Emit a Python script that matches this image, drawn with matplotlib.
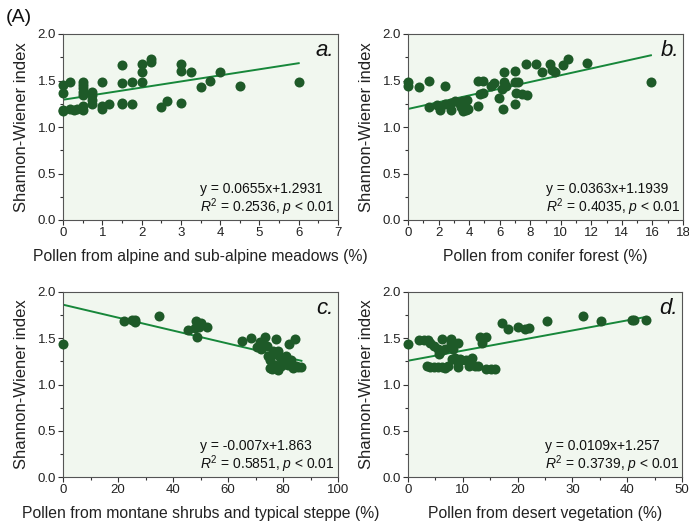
import numpy as np
import matplotlib.pyplot as plt
from matplotlib.ticker import MultipleLocator, AutoMinorLocator

plt.rcParams['font.family'] = ['Liberation Sans', 'DejaVu Sans']
plt.rcParams['mathtext.fontset'] = 'custom'
plt.rcParams['mathtext.rm'] = 'Liberation Sans'
plt.rcParams['mathtext.it'] = 'Liberation Sans:italic'

# ---- data ----
a_x = [0, 0, 0, 0, 0.17, 0.17, 0.27, 0.36, 0.5, 0.5, 0.5, 0.5, 0.5, 0.5, 0.5,
       0.75, 0.75, 0.75, 0.75, 1.0, 1.0, 1.0, 1.17, 1.5, 1.5, 1.5, 1.5, 1.75, 1.75,
       2.0, 2.0, 2.0, 2.25, 2.25, 2.5, 2.65, 3.0, 3.0, 3.0, 3.25, 3.5, 3.75, 4.0, 4.5, 6.0]
a_y = [1.45, 1.365, 1.18, 1.17, 1.48, 1.19, 1.18, 1.19, 1.48, 1.45, 1.42, 1.38, 1.34, 1.23, 1.18,
       1.38, 1.34, 1.29, 1.25, 1.48, 1.23, 1.19, 1.25, 1.67, 1.47, 1.26, 1.25, 1.48, 1.25,
       1.68, 1.59, 1.48, 1.73, 1.70, 1.22, 1.28, 1.68, 1.60, 1.26, 1.59, 1.43, 1.50, 1.59, 1.44, 1.48]

b_x = [0, 0, 0.7, 1.4, 1.4, 1.9, 2.1, 2.45, 2.45, 2.8, 2.8, 3.1, 3.4, 3.5, 3.55, 3.6, 3.7,
       3.75, 3.8, 3.85, 3.9, 3.65, 4.55, 4.55, 4.9, 4.7, 4.9, 5.45, 5.6, 5.95, 6.15, 6.2,
       6.3, 6.3, 6.4, 7.0, 7.0, 7.0, 7.2, 7.1, 7.45, 7.8, 7.7, 8.4, 8.75, 9.3, 9.45, 9.6,
       10.15, 10.5, 11.7, 15.9]
b_y = [1.48, 1.44, 1.43, 1.49, 1.22, 1.24, 1.18, 1.44, 1.25, 1.26, 1.18, 1.28, 1.25, 1.21, 1.28,
       1.17, 1.23, 1.27, 1.18, 1.29, 1.19, 1.24, 1.50, 1.23, 1.50, 1.35, 1.37, 1.44, 1.47, 1.31,
       1.41, 1.19, 1.59, 1.48, 1.44, 1.60, 1.48, 1.25, 1.48, 1.37, 1.35, 1.34, 1.68, 1.68, 1.59,
       1.68, 1.61, 1.59, 1.67, 1.73, 1.69, 1.48]

c_x = [0, 22, 25, 26, 26, 35, 45.5, 48.3, 48.8, 49.5, 50.3, 52.4, 47.9, 65.2, 68.5, 71.5, 73.3,
       72.1, 74.2, 77.6, 76.4, 78.2, 82.2, 84.3, 81.2, 75.2, 75.2, 77.0, 78.2, 80.0, 81.8, 82.4,
       83.6, 84.9, 86.7, 79.3, 76.1, 70.5, 72.5, 74.5, 79.0, 80.5, 83.0, 85.5, 77.0, 80.8]
c_y = [1.44, 1.69, 1.70, 1.70, 1.68, 1.74, 1.59, 1.69, 1.51, 1.62, 1.67, 1.62, 1.61, 1.47, 1.50,
       1.46, 1.51, 1.38, 1.42, 1.49, 1.36, 1.36, 1.44, 1.49, 1.31, 1.27, 1.18, 1.21, 1.16, 1.25,
       1.21, 1.25, 1.18, 1.20, 1.19, 1.20, 1.17, 1.41, 1.44, 1.31, 1.30, 1.22, 1.26, 1.19, 1.33, 1.28]

d_x = [0, 2.0, 2.9, 3.7, 4.1, 4.75, 5.4, 6.0, 5.7, 6.2, 6.7, 7.8, 7.8, 8.2, 9.1, 8.0, 8.5,
       9.1, 9.7, 9.5, 10.5, 11.0, 11.6, 12.2, 12.8, 3.4, 4.0, 4.75, 5.5, 6.2, 6.7, 7.3, 9.1,
       11.1, 14.2, 15.1, 15.9, 13.1, 13.5, 14.2, 17.1, 18.3, 20.1, 21.3, 22.1, 25.4, 32.0, 35.2,
       40.8, 41.3, 43.4]
d_y = [1.44, 1.48, 1.48, 1.48, 1.45, 1.42, 1.38, 1.36, 1.33, 1.49, 1.38, 1.49, 1.45, 1.38, 1.45,
       1.28, 1.29, 1.23, 1.27, 1.28, 1.27, 1.25, 1.29, 1.20, 1.20, 1.20, 1.19, 1.19, 1.19, 1.19,
       1.18, 1.20, 1.19, 1.20, 1.17, 1.17, 1.17, 1.51, 1.45, 1.51, 1.67, 1.60, 1.62, 1.60, 1.61,
       1.69, 1.74, 1.69, 1.70, 1.70, 1.70]

panels = [
    (a_x, a_y, 0.0655, 1.2931, (0, 7), 1, 'a.', 'Pollen from alpine and sub-alpine meadows (%)',
     'y = 0.0655x+1.2931', '0.2536'),
    (b_x, b_y, 0.0363, 1.1939, (0, 18), 2, 'b.', 'Pollen from conifer forest (%)',
     'y = 0.0363x+1.1939', '0.4035'),
    (c_x, c_y, -0.007, 1.863, (0, 100), 20, 'c.', 'Pollen from montane shrubs and typical steppe (%)',
     'y = -0.007x+1.863', '0.5851'),
    (d_x, d_y, 0.0109, 1.257, (0, 50), 10, 'd.', 'Pollen from desert vegetation (%)',
     'y = 0.0109x+1.257', '0.3739'),
]

W, H = 689, 522
fig = plt.figure(figsize=(W / 100, H / 100), dpi=100)

# axes boxes in pixels: left, top, right, bottom
boxes = [(63, 34, 338, 220), (408, 34, 683, 220), (63, 292, 338, 477), (408, 292, 682, 477)]

dot_color = '#1e5a28'
line_color = '#17873a'
bg = '#f1f7ef'

for (x, y, k, b, xlim, step, tag, xlab, eq, r2), (l, t, r, bt) in zip(panels, boxes):
    ax = fig.add_axes([l / W, 1 - bt / H, (r - l) / W, (bt - t) / H])
    ax.set_facecolor(bg)
    ax.scatter(x, y, s=52, color=dot_color, zorder=3, linewidths=0, clip_on=False)
    xs = np.array([0, max(x)])
    ax.plot(xs, k * xs + b, color=line_color, lw=1.4, zorder=2)
    ax.set_xlim(*xlim)
    ax.set_ylim(0, 2.0)
    ax.xaxis.set_major_locator(MultipleLocator(step))
    ax.yaxis.set_major_locator(MultipleLocator(0.5))
    ax.xaxis.set_minor_locator(AutoMinorLocator(2))
    ax.yaxis.set_minor_locator(AutoMinorLocator(2))
    ax.yaxis.set_major_formatter(plt.FormatStrFormatter('%.1f'))
    ax.tick_params(which='both', direction='out', labelsize=9.5, colors='#333333',
                   labelcolor='#222222', width=0.8)
    ax.tick_params(which='major', length=3.5, pad=1.5)
    ax.tick_params(which='minor', length=2)
    for s in ax.spines.values():
        s.set_color('#555555')
        s.set_linewidth(0.8)
    ax.set_xlabel(xlab, fontsize=11.3, labelpad=7, color='#222222')
    ax.set_ylabel('Shannon-Wiener index', fontsize=12, labelpad=6, color='#222222')
    ax.text(0.985, 0.97, tag, transform=ax.transAxes, ha='right', va='top',
            fontsize=16, style='italic', color='#111111')
    ax.text(0.50, 0.165, eq, transform=ax.transAxes, ha='left', va='center',
            fontsize=10, color='#111111')
    ax.text(0.50, 0.07, r'$R^{2}$ = ' + r2 + ', $p$ < 0.01', transform=ax.transAxes,
            ha='left', va='center', fontsize=10, color='#111111')

fig.text(6 / W, 1 - 18 / H, '(A)', fontsize=14, ha='left', va='center', color='#111111')

fig.savefig('out.png', dpi=100)
